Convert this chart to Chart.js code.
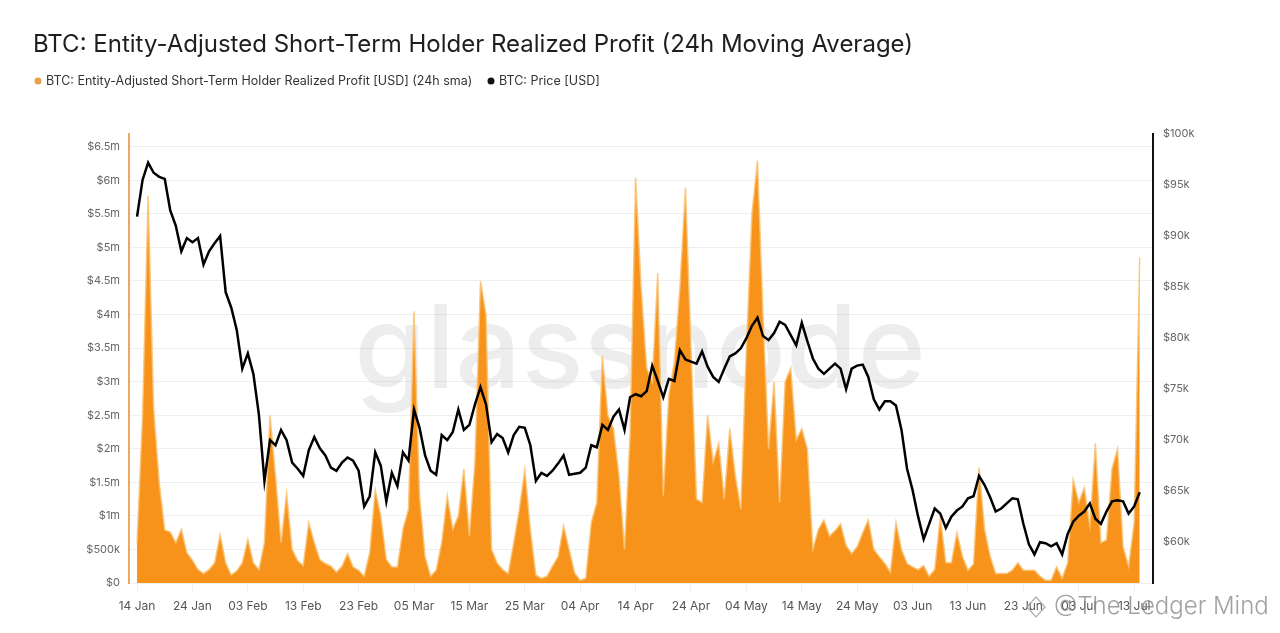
<!DOCTYPE html>
<html>
<head>
<meta charset="utf-8">
<script src="https://cdn.jsdelivr.net/npm/chart.js@4.4.1/dist/chart.umd.min.js"></script>
<style>
  html, body { margin: 0; padding: 0; background: #fff; }
  #wrap { width: 1280px; height: 633px; position: relative; }
</style>
</head>
<body>
<div id="wrap"><canvas id="chart"></canvas></div>
<script>
// x axis: one point per day starting 14 Jan
const tickLabels = ['14 Jan', '24 Jan', '03 Feb', '13 Feb', '23 Feb', '05 Mar', '15 Mar', '25 Mar', '04 Apr', '14 Apr',
  '24 Apr', '04 May', '14 May', '24 May', '03 Jun', '13 Jun', '23 Jun', '03 Jul', '13 Jul'];

// STH realized profit, 24h sma (USD millions)
const profitM = [
  0.6, 2.5, 5.77, 2.6, 1.5, 0.79, 0.76, 0.6, 0.8, 0.45,
  0.34, 0.2, 0.14, 0.2, 0.3, 0.72, 0.3, 0.12, 0.18, 0.3,
  0.65, 0.3, 0.2, 0.6, 2.5, 1.6, 0.6, 1.34, 0.5, 0.33,
  0.26, 0.9, 0.6, 0.35, 0.29, 0.25, 0.16, 0.25, 0.44, 0.24,
  0.19, 0.1, 0.45, 1.39, 1.0, 0.35, 0.24, 0.24, 0.8, 1.1,
  4.05, 1.3, 0.39, 0.1, 0.19, 0.6, 1.3, 0.8, 1.0, 1.7,
  0.7, 1.8, 4.5, 4.0, 0.5, 0.3, 0.2, 0.14, 0.6, 1.09,
  1.69, 0.8, 0.12, 0.07, 0.1, 0.25, 0.39, 0.85, 0.5, 0.15,
  0.04, 0.07, 0.9, 1.2, 3.38, 2.5, 2.3, 1.6, 0.5, 2.2,
  6.04, 4.4, 3.2, 3.0, 4.62, 1.3, 2.8, 3.3, 4.4, 5.89,
  3.5, 1.25, 1.2, 2.5, 1.8, 2.08, 1.25, 2.3, 1.6, 1.1,
  3.5, 5.5, 6.29, 4.0, 2.0, 3.0, 1.2, 3.0, 3.2, 2.13,
  2.3, 2.0, 0.5, 0.8, 0.94, 0.7, 0.78, 0.88, 0.56, 0.44,
  0.54, 0.75, 0.94, 0.5, 0.39, 0.29, 0.16, 0.9, 0.5, 0.29,
  0.24, 0.2, 0.26, 0.1, 0.2, 0.99, 0.3, 0.3, 0.75, 0.4,
  0.19, 0.28, 1.72, 0.8, 0.4, 0.14, 0.14, 0.14, 0.19, 0.3,
  0.19, 0.19, 0.19, 0.1, 0.04, 0.04, 0.24, 0.07, 0.3, 1.54,
  1.2, 1.42, 0.85, 2.08, 0.6, 0.64, 1.7, 2.0, 0.54, 0.25,
  0.9, 4.85
];

// BTC price (USD thousands)
const priceK = [
  91.9, 95.5, 97.2, 96.2, 95.8, 95.6, 92.5, 91.0, 88.5, 89.8,
  89.4, 89.8, 87.2, 88.5, 89.3, 90.0, 84.5, 83.0, 80.8, 77.0,
  78.5, 76.5, 72.5, 66.0, 70.0, 69.5, 71.0, 70.0, 67.8, 67.2,
  66.5, 69.0, 70.3, 69.2, 68.5, 67.3, 67.0, 67.8, 68.3, 68.0,
  67.0, 63.5, 64.5, 68.8, 67.5, 64.0, 66.8, 65.5, 68.8, 68.0,
  73.0, 71.2, 68.5, 67.0, 66.6, 70.5, 70.0, 70.8, 73.0, 71.0,
  71.5, 73.5, 75.2, 73.5, 69.8, 70.6, 70.2, 68.8, 70.5, 71.3,
  71.2, 69.5, 66.0, 66.8, 66.5, 67.0, 67.7, 68.5, 66.6, 66.7,
  66.8, 67.3, 69.5, 69.3, 71.5, 71.0, 72.3, 73.0, 71.0, 74.2,
  74.5, 74.3, 74.8, 77.3, 75.8, 74.2, 76.0, 75.8, 78.8, 77.9,
  77.7, 77.5, 78.7, 77.2, 76.2, 75.7, 77.0, 78.2, 78.5, 79.0,
  80.0, 81.2, 82.0, 80.2, 79.8, 80.5, 81.6, 81.3, 80.3, 79.3,
  81.5, 79.7, 78.0, 77.0, 76.5, 77.0, 77.5, 77.0, 75.0, 77.0,
  77.3, 77.4, 76.2, 74.0, 73.0, 73.8, 73.8, 73.4, 71.0, 67.2,
  65.1, 62.5, 60.3, 61.8, 63.3, 62.8, 61.4, 62.5, 63.1, 63.5,
  64.3, 64.5, 66.5, 65.6, 64.4, 63.0, 63.3, 63.8, 64.3, 64.2,
  61.8, 59.8, 58.8, 60.0, 59.9, 59.6, 59.9, 58.8, 60.8, 62.0,
  62.6, 63.0, 63.8, 62.3, 61.8, 63.0, 64.0, 64.1, 64.0, 62.8,
  63.5, 64.9
];

const leftTicks = [0, 0.5, 1, 1.5, 2, 2.5, 3, 3.5, 4, 4.5, 5, 5.5, 6, 6.5];
const rightTicks = [60, 65, 70, 75, 80, 85, 90, 95, 100];

const ORANGE = '#f7931a';
const FONT = 'Inter, "Noto Sans", Arial, sans-serif';

function fmtLeft(v) {
  if (v === 0) return '$0';
  if (v < 1) return '$' + Math.round(v * 1000) + 'k';
  return '$' + v + 'm';
}

// title, legend and watermarks drawn straight on the canvas
const decorPlugin = {
  id: 'decor',
  beforeDatasetsDraw(chart) {
    const c = chart.ctx;
    c.save();
    c.font = '500 116px ' + FONT;
    c.fillStyle = 'rgba(0,0,0,0.07)';
    c.textAlign = 'center';
    c.textBaseline = 'alphabetic';
    c.fillText('glassnode', 640, 388);
    c.restore();
  },
  afterDraw(chart) {
    const c = chart.ctx;
    c.save();
    c.textBaseline = 'middle';
    c.textAlign = 'left';
    c.fillStyle = '#1e1e1e';
    c.font = '24px ' + FONT;
    c.fillText('BTC: Entity-Adjusted Short-Term Holder Realized Profit (24h Moving Average)', 33, 45);

    c.font = '12.5px ' + FONT;
    c.fillStyle = '#e9a04a';
    c.beginPath(); c.arc(38, 81, 3.5, 0, Math.PI * 2); c.fill();
    c.fillStyle = '#333';
    c.fillText('BTC: Entity-Adjusted Short-Term Holder Realized Profit [USD] (24h sma)', 46, 81);
    c.fillStyle = '#111';
    c.beginPath(); c.arc(491, 81, 3.5, 0, Math.PI * 2); c.fill();
    c.fillStyle = '#333';
    c.fillText('BTC: Price [USD]', 499, 81);

    // reposter watermark
    c.strokeStyle = 'rgba(150,150,150,0.7)';
    c.lineWidth = 1.5;
    c.beginPath();
    c.moveTo(1036, 597); c.lineTo(1045, 607); c.lineTo(1036, 617); c.lineTo(1027, 607); c.closePath();
    c.stroke();
    c.font = '300 24px ' + FONT;
    c.fillStyle = 'rgba(130,130,130,0.75)';
    c.fillText('@The Ledger Mind', 1054, 607);
    c.restore();
  }
};

const ctx = document.getElementById('chart').getContext('2d');
const chart = new Chart(ctx, {
  type: 'line',
  data: {
    datasets: [
      {
        label: 'BTC: Price [USD]',
        data: priceK.map((v, i) => ({ x: i, y: v })),
        yAxisID: 'yR',
        borderColor: '#000',
        borderWidth: 2.5,
        pointRadius: 0,
        tension: 0,
        fill: false,
        order: 0
      },
      {
        label: 'BTC: Entity-Adjusted Short-Term Holder Realized Profit [USD] (24h sma)',
        data: profitM.map((v, i) => ({ x: i, y: v })),
        yAxisID: 'yL',
        borderColor: 'rgba(250,196,120,0.9)',
        borderWidth: 1.5,
        backgroundColor: ORANGE,
        pointRadius: 0,
        tension: 0,
        fill: 'origin',
        order: 1
      }
    ]
  },
  options: {
    responsive: true,
    maintainAspectRatio: false,
    animation: false,
    layout: { padding: { top: 134, left: 0, right: 0, bottom: 0 } },
    plugins: { legend: { display: false }, title: { display: false }, tooltip: { enabled: false } },
    scales: {
      x: {
        type: 'linear',
        min: -1.45,
        max: 183.4,
        afterBuildTicks(scale) { scale.ticks = tickLabels.map((_, i) => ({ value: i * 10 })); },
        afterFit(scale) { scale.height = 50; },
        ticks: {
          autoSkip: false, maxRotation: 0, padding: 8,
          color: '#555', font: { family: FONT, size: 12 },
          callback: (v) => tickLabels[Math.round(v / 10)]
        },
        grid: { drawOnChartArea: false, tickLength: 8, color: '#eeeeee' },
        border: { display: false }
      },
      yL: {
        position: 'left',
        min: 0,
        max: 6.69,
        afterBuildTicks(scale) { scale.ticks = leftTicks.map((v) => ({ value: v })); },
        afterFit(scale) { scale.width = 129; },
        ticks: { padding: 9, color: '#666', font: { family: FONT, size: 11 }, callback: fmtLeft },
        grid: { color: '#efefef', lineWidth: 1, drawTicks: false },
        border: { display: true, color: '#eaa95e', width: 2 }
      },
      yR: {
        position: 'right',
        min: 56,
        max: 100,
        afterBuildTicks(scale) { scale.ticks = rightTicks.map((v) => ({ value: v })); },
        afterFit(scale) { scale.width = 127; },
        ticks: { padding: 10, color: '#666', font: { family: FONT, size: 11 }, callback: (v) => '$' + v + 'k' },
        grid: { drawOnChartArea: false, drawTicks: false },
        border: { display: true, color: '#111', width: 2 }
      }
    }
  },
  plugins: [decorPlugin]
});
</script>
</body>
</html>
